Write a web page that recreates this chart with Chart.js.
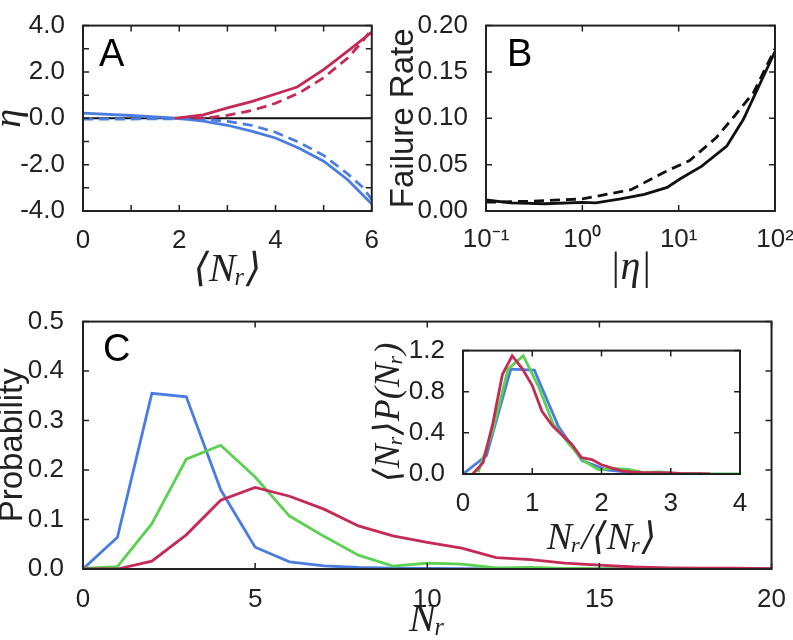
<!DOCTYPE html>
<html>
<head>
<meta charset="utf-8">
<script src="https://cdn.jsdelivr.net/npm/chart.js@4"></script>
<style>
html, body { margin: 0; padding: 0; background: #fff; overflow: hidden; }
body { position: relative; width: 793px; height: 640px; }
canvas { position: absolute; }
</style>
</head>
<body>
<canvas id="chart-a" width="385" height="295" style="left:0;top:0;width:385px;height:295px"></canvas>
<canvas id="chart-b" width="420" height="295" style="left:390px;top:0;width:420px;height:295px"></canvas>
<canvas id="chart-c" width="793" height="345" style="left:0;top:295px;width:793px;height:345px"></canvas>
<canvas id="chart-inset" width="390" height="230" style="left:370px;top:325px;width:390px;height:230px"></canvas>
<script>
// Panel A: eta against <N_r>
const aRedX = [1.9, 2.5, 3, 3.5, 4, 4.45, 5, 5.5, 6];
const aRed = [0, 0.15, 0.45, 0.72, 1.05, 1.35, 2.1, 2.9, 3.72];
const aRedDashX = [2.3, 2.7, 3, 3.5, 4, 4.5, 5, 5.5, 5.8, 6];
const aRedDash = [0, 0.05, 0.13, 0.33, 0.65, 1.1, 1.75, 2.6, 3.3, 3.85];
const aBlueX = [0, 1, 2, 2.5, 3, 3.5, 4, 4.5, 5, 5.5, 6];
const aBlue = [0.22, 0.12, 0, -0.12, -0.3, -0.55, -0.85, -1.3, -1.85, -2.65, -3.7];
const aBlueDashX = [0, 1, 2, 2.5, 3, 3.5, 4, 4.5, 5, 5.5, 5.8, 6];
const aBlueDash = [-0.03, -0.03, -0.02, -0.04, -0.13, -0.3, -0.6, -1.05, -1.6, -2.4, -2.95, -3.5];
const aZeroX = [0, 6];
const aZero = [0, 0];

// Panel B: failure rate against |eta|
const bSolidX = [0.1, 0.18, 0.41, 1.0, 1.38, 2.5, 4.4, 7.6, 10.4, 17.4, 31.6, 47, 100];
const bSolid = [0.0119, 0.0088, 0.0078, 0.0094, 0.0088, 0.013, 0.018, 0.0254, 0.0348, 0.0484, 0.070, 0.099, 0.172];
const bDashX = [0.1, 0.28, 1.0, 3.2, 7.0, 13, 24.5, 38, 60, 100];
const bDash = [0.0095, 0.0105, 0.013, 0.023, 0.0416, 0.0545, 0.079, 0.1025, 0.128, 0.175];
const bTicks = [0.1, 1, 10, 100];
const bTickLabels = ['10⁻¹', '10⁰', '10¹', '10²'];

// Panel C: probability against N_r
const cX = [0, 1, 2, 3, 4, 5, 6, 7, 8, 9, 10, 11, 12, 13, 14, 15, 16, 17, 18, 19, 20];
const cBlue = [0, 0.064, 0.355, 0.348, 0.16, 0.044, 0.0144, 0.0065, 0.003, 0.0015, 0.001, 0.0005, 0, 0, 0, 0, 0, 0, 0, 0, 0];
const cGreen = [0.001, 0.0046, 0.0915, 0.222, 0.25, 0.186, 0.107, 0.066, 0.028, 0.006, 0.012, 0.01, 0.002, 0.003, 0.001, 0.0005, 0, 0, 0, 0, 0];
const cRed = [0, 0, 0.016, 0.069, 0.139, 0.165, 0.147, 0.121, 0.087, 0.067, 0.054, 0.042, 0.023, 0.019, 0.012, 0.008, 0.004, 0.002, 0.0015, 0.0015, 0.0005];

// Inset: scaled distributions
const iBlueX = [0, 0.34, 0.69, 1.03, 1.38, 1.72, 2.07, 2.41, 2.76, 3.1, 3.45];
const iBlue = [0, 0.18, 1.02, 1.01, 0.46, 0.13, 0.04, 0.015, 0.006, 0.003, 0.001];
const iGreenX = [0.22, 0.43, 0.65, 0.87, 1.09, 1.3, 1.52, 1.74, 1.96, 2.17, 2.39, 2.61, 2.83, 3.04, 3.26, 3.48, 3.7, 4.0];
const iGreen = [0.02, 0.42, 1.02, 1.15, 0.85, 0.49, 0.3, 0.13, 0.04, 0.055, 0.045, 0.014, 0.02, 0.008, 0.004, 0.002, 0.001, 0];
const iRedX = [0.14, 0.29, 0.43, 0.57, 0.71, 0.86, 1.0, 1.14, 1.29, 1.43, 1.57, 1.71, 1.86, 2.0, 2.14, 2.29, 2.43, 2.57, 2.71, 2.86, 3.0, 3.14, 3.29, 3.43, 3.57];
const iRed = [0, 0.11, 0.49, 0.97, 1.15, 1.02, 0.86, 0.61, 0.47, 0.38, 0.29, 0.16, 0.14, 0.09, 0.06, 0.03, 0.02, 0.015, 0.014, 0.012, 0.01, 0.005, 0.004, 0.003, 0.002];

const ink = '#222';
const blue = '#4a7ddf';
const green = '#5ad150';
const red = '#c42a55';
const sans = "'Liberation Sans', Arial, sans-serif";
const serif = "'Liberation Serif', 'DejaVu Serif', serif";

Chart.defaults.font.family = sans;
Chart.defaults.color = ink;

const pts = (xs, ys) => xs.map((x, i) => ({ x: x, y: ys[i] }));

function line(data, color, dashed, width) {
    return {
        data: data,
        borderColor: color,
        borderWidth: width || 2.8,
        borderDash: dashed ? [10, 6] : [],
        pointRadius: 0,
        fill: false,
        tension: 0
    };
}

// box, inward ticks on all four sides, panel letter
const framePlugin = {
    id: 'frame',
    afterDatasetsDraw(chart, args, opts) {
        const { ctx, chartArea: a } = chart;
        const sx = chart.scales.x;
        const sy = chart.scales.y;
        const len = 6;
        ctx.save();
        ctx.strokeStyle = ink;
        ctx.lineWidth = 1.5;
        ctx.beginPath();
        sx.ticks.forEach((t, i) => {
            const p = sx.getPixelForTick(i);
            ctx.moveTo(p, a.bottom); ctx.lineTo(p, a.bottom - len);
            ctx.moveTo(p, a.top); ctx.lineTo(p, a.top + len);
        });
        sy.ticks.forEach((t, i) => {
            const p = sy.getPixelForTick(i);
            ctx.moveTo(a.left, p); ctx.lineTo(a.left + len, p);
            ctx.moveTo(a.right, p); ctx.lineTo(a.right - len, p);
        });
        ctx.stroke();
        ctx.lineWidth = 2;
        ctx.strokeRect(a.left, a.top, a.right - a.left, a.bottom - a.top);
        if (opts.letter) {
            ctx.fillStyle = '#000';
            ctx.font = '38px ' + sans;
            ctx.textBaseline = 'alphabetic';
            ctx.fillText(opts.letter, a.left + opts.dx, a.top + opts.dy);
        }
        ctx.restore();
    }
};

function xScale(height, o) {
    return {
        type: o.type || 'linear',
        position: 'bottom',
        min: o.min, max: o.max,
        grid: { display: false },
        border: { display: false },
        ticks: {
            font: { size: 26 },
            padding: o.pad,
            maxRotation: 0,
            autoSkip: false,
            stepSize: o.step,
            callback: o.cb
        },
        afterBuildTicks: o.build,
        title: {
            display: true,
            text: o.title,
            font: o.font,
            padding: { top: 0, bottom: o.tpad }
        },
        afterFit: s => { s.height = height; }
    };
}

function yScale(width, o) {
    return {
        type: 'linear',
        position: 'left',
        min: o.min, max: o.max,
        grid: { display: false },
        border: { display: false },
        ticks: {
            font: { size: 26 },
            padding: o.pad,
            autoSkip: false,
            stepSize: o.step,
            callback: o.cb
        },
        title: {
            display: true,
            text: o.title,
            font: o.font,
            padding: { top: o.tpad, bottom: 0 }
        },
        afterFit: s => { s.width = width; }
    };
}

const baseOptions = (padding, scales, frame) => ({
    responsive: false,
    animation: false,
    devicePixelRatio: 1,
    layout: { padding: padding },
    plugins: { legend: { display: false }, tooltip: { enabled: false }, frame: frame },
    scales: scales
});

const math = size => ({ family: serif, style: 'italic', size: size, lineHeight: 1.2 });

// Panel A
new Chart(document.getElementById('chart-a'), {
    type: 'line',
    data: {
        datasets: [
            line(pts(aRedX, aRed), red, false),
            line(pts(aRedDashX, aRedDash), red, true),
            line(pts(aBlueX, aBlue), blue, false),
            line(pts(aBlueDashX, aBlueDash), blue, true),
            line(pts(aZeroX, aZero), '#111', false, 2)
        ]
    },
    options: baseOptions({ top: 14, right: 13, left: 0, bottom: 0 }, {
        x: xScale(84, {
            min: 0, max: 6, step: 1, pad: 6,
            cb: v => (v % 2 === 0 ? String(v) : ''),
            title: '⟨Nᵣ⟩', font: math(40), tpad: 1
        }),
        y: yScale(83, {
            min: -4, max: 4, step: 1, pad: 10,
            cb: v => (v % 2 === 0 ? v.toFixed(1) : ''),
            title: 'η', font: math(38), tpad: -13
        })
    }, { letter: 'A', dx: 16, dy: 40 }),
    plugins: [framePlugin]
});

// Panel B
new Chart(document.getElementById('chart-b'), {
    type: 'line',
    data: {
        datasets: [
            line(pts(bSolidX, bSolid), '#111', false),
            line(pts(bDashX, bDash), '#111', true)
        ]
    },
    options: baseOptions({ top: 14, right: 35, left: 0, bottom: 0 }, {
        x: xScale(84, {
            type: 'logarithmic', min: 0.1, max: 100, pad: 5,
            build: s => { s.ticks = bTicks.map(v => ({ value: v })); },
            cb: (v, i) => bTickLabels[i],
            title: '|η|', font: math(40), tpad: 3
        }),
        y: yScale(96, {
            min: 0, max: 0.2, step: 0.05, pad: 10,
            cb: v => v.toFixed(2),
            title: 'Failure Rate', font: { size: 33 }, tpad: -6
        })
    }, { letter: 'B', dx: 21, dy: 40 }),
    plugins: [framePlugin]
});

// Panel C
new Chart(document.getElementById('chart-c'), {
    type: 'line',
    data: {
        datasets: [
            line(pts(cX, cRed), red, false),
            line(pts(cX, cGreen), green, false),
            line(pts(cX, cBlue), blue, false)
        ]
    },
    options: baseOptions({ top: 19, right: 18, left: 0, bottom: 0 }, {
        x: xScale(71, {
            min: 0, max: 20, step: 5, pad: 7,
            title: 'Nᵣ', font: math(40), tpad: -4
        }),
        y: yScale(83, {
            min: 0, max: 0.5, step: 0.1, pad: 11,
            cb: v => v.toFixed(1),
            title: 'Probability', font: { size: 33 }, tpad: -7
        })
    }, { letter: 'C', dx: 20, dy: 39 }),
    plugins: [framePlugin]
});

// Inset
new Chart(document.getElementById('chart-inset'), {
    type: 'line',
    data: {
        datasets: [
            line(pts(iRedX, iRed), red, false),
            line(pts(iGreenX, iGreen), green, false),
            line(pts(iBlueX, iBlue), blue, false)
        ]
    },
    options: baseOptions({ top: 20, right: 20, left: 0, bottom: 0 }, {
        x: xScale(81, {
            min: 0, max: 4, step: 1, pad: 6,
            title: 'Nᵣ/⟨Nᵣ⟩', font: math(38), tpad: -7
        }),
        y: yScale(93, {
            min: 0, max: 1.2, step: 0.4, pad: 10,
            cb: v => v.toFixed(1),
            title: '⟨Nᵣ⟩P(Nᵣ)', font: math(36), tpad: -2
        })
    }, {}),
    plugins: [framePlugin]
});
</script>
</body>
</html>
